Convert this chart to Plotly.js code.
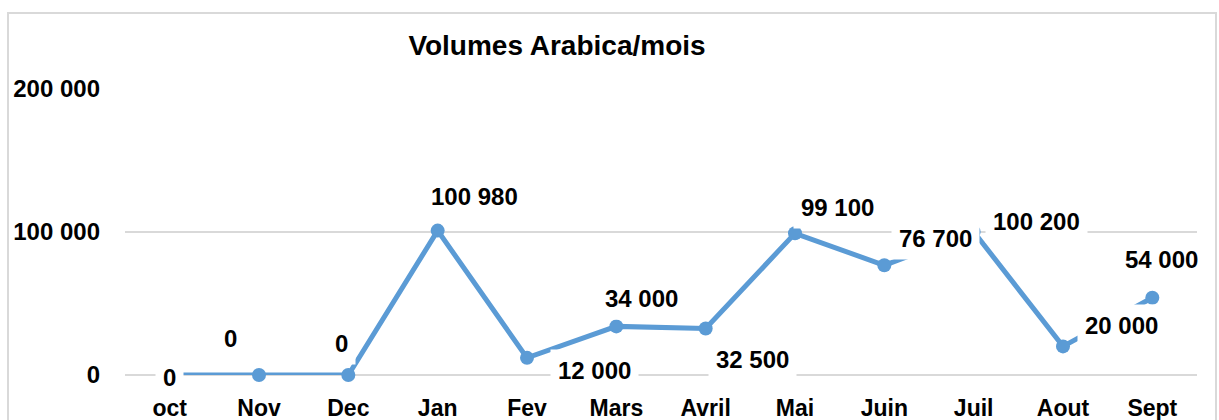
<!DOCTYPE html>
<html>
<head>
<meta charset="utf-8">
<script src="https://cdn.plot.ly/plotly-3.0.1.min.js"></script>
<style>
html,body{margin:0;padding:0;background:#fff;}
#chart{width:1219px;height:420px;}
</style>
</head>
<body>
<div id="chart"></div>
<script>
// Data
const months = ["oct","Nov","Dec","Jan","Fev","Mars","Avril","Mai","Juin","Juil","Aout","Sept"];
const volumes = [0, 0, 0, 100980, 12000, 34000, 32500, 99100, 76700, 100200, 20000, 54000];
const yTickVals = [0, 100000, 200000];
const yTickText = ["0", "100 000", "200 000"];
// label offsets (pixels) relative to each point
const labelDX = [0, -29, -7, 37, 67, 25, 47, 42, 51, 63, 58, 9];
const labelDY = [-2, 37, 32, 34, -13, 28, -31, 26, 27, 10, 21, 38];

function fmt(v){
  return String(v).replace(/\B(?=(\d{3})+(?!\d))/g, " ");
}

const FONT = '"Liberation Sans", Arial, sans-serif';

const trace = {
  x: months,
  y: volumes,
  type: 'scatter',
  mode: 'lines+markers',
  line: {color: '#5B9BD5', width: 5},
  marker: {color: '#5B9BD5', size: 14},
  cliponaxis: false,
  hoverinfo: 'skip'
};

const annotations = months.map((m, i) => ({
  x: m, y: volumes[i], xref: 'x', yref: 'y',
  text: fmt(volumes[i]),
  showarrow: false,
  xshift: labelDX[i], yshift: labelDY[i],
  bgcolor: '#ffffff',
  borderpad: 7,
  font: {family: FONT, size: 24, color: '#000', weight: 'bold'}
}));

const layout = {
  width: 1219, height: 420,
  margin: {l: 125, r: 22, t: 89, b: 45},
  paper_bgcolor: '#fff', plot_bgcolor: '#fff',
  showlegend: false,
  hovermode: false,
  title: {
    text: '<b>Volumes Arabica/mois</b>',
    x: (557 - 125) / 1072, xref: 'paper', xanchor: 'center',
    y: 1 - 45 / 420, yref: 'container', yanchor: 'middle',
    font: {family: FONT, size: 28, color: '#000'}
  },
  xaxis: {
    type: 'category',
    range: [-0.5, 11.5],
    showgrid: false, zeroline: false, showline: false,
    ticks: '',
    ticklabelstandoff: 17,
    tickfont: {family: FONT, size: 23, color: '#000', weight: 'bold'},
    fixedrange: true
  },
  yaxis: {
    range: [0, 200000],
    tickvals: yTickVals, ticktext: yTickText,
    showgrid: true, gridcolor: '#d9d9d9', gridwidth: 1.5,
    zeroline: true, zerolinecolor: '#d9d9d9', zerolinewidth: 1.5,
    showline: false, ticks: '',
    ticklabelstandoff: 24,
    tickfont: {family: FONT, size: 24, color: '#000', weight: 'bold'},
    fixedrange: true
  },
  annotations: annotations,
  shapes: [{
    type: 'rect', xref: 'paper', yref: 'paper', layer: 'below',
    x0: (8 - 125) / 1072, x1: (1216 - 125) / 1072,
    y0: (375 - 430) / 286, y1: 1 + (89 - 13) / 286,
    line: {color: '#d9d9d9', width: 2}, fillcolor: 'rgba(0,0,0,0)'
  }]
};

Plotly.newPlot('chart', [trace], layout, {displayModeBar: false, staticPlot: true});
</script>
</body>
</html>
